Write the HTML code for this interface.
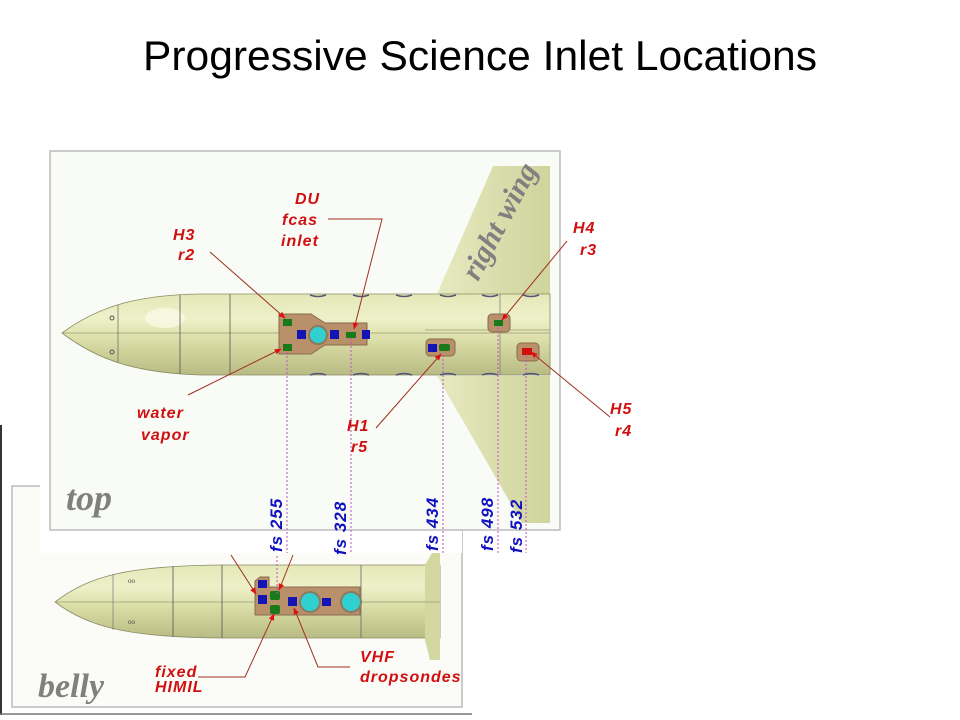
<!DOCTYPE html>
<html><head><meta charset="utf-8"><style>
html,body{margin:0;padding:0;background:#fff;width:960px;height:720px;overflow:hidden}
svg{display:block}
.r{font-family:"Liberation Sans",sans-serif;font-style:italic;font-weight:bold;fill:#d01010;font-size:16px;letter-spacing:1px}
.b{font-family:"Liberation Sans",sans-serif;font-style:italic;font-weight:bold;fill:#1010c0;font-size:17px;letter-spacing:1px}
.g{font-family:"Liberation Serif",serif;font-style:italic;font-weight:bold;fill:#808080}
</style></head><body>
<svg width="960" height="720" viewBox="0 0 960 720" xmlns="http://www.w3.org/2000/svg">
<defs>
<linearGradient id="fus" x1="0" y1="0" x2="0" y2="1">
<stop offset="0" stop-color="#e4e8b8"/><stop offset="0.3" stop-color="#eef0c8"/><stop offset="0.6" stop-color="#d8dca4"/><stop offset="1" stop-color="#b8bc84"/>
</linearGradient>
<linearGradient id="wing" x1="0" y1="0" x2="1" y2="0">
<stop offset="0" stop-color="#e6eac0"/><stop offset="1" stop-color="#cfd39c"/>
</linearGradient>
<marker id="ah" viewBox="0 0 10 10" refX="9" refY="5" markerWidth="7" markerHeight="7" orient="auto"><path d="M0,1 L10,5 L0,9 z" fill="#e01010"/></marker>
</defs>
<text x="143" y="70" font-family="Liberation Sans,sans-serif" font-size="42" textLength="674" lengthAdjust="spacingAndGlyphs" fill="#000">Progressive Science Inlet Locations</text>

<line x1="1" y1="425" x2="1" y2="715" stroke="#333" stroke-width="2"/>
<line x1="0" y1="714" x2="472" y2="714" stroke="#777" stroke-width="1.5"/>

<rect x="12" y="486" width="450" height="221" fill="#fbfcf8" stroke="#bbb" stroke-width="1.5"/>
<path d="M55,602 C90,575 130,566 220,565 L440,565 L440,638 L220,638 C130,637 90,628 55,602 Z" fill="url(#fus)" stroke="#8a8c60" stroke-width="0.8"/>
<path d="M425,565 L432,553 L440,553 L440,660 L430,660 L425,640 Z" fill="#d3d7a0"/>
<line x1="55" y1="602" x2="440" y2="602" stroke="#9a9c70" stroke-width="0.7"/>
<line x1="113" y1="574" x2="113" y2="630" stroke="#777" stroke-width="0.7"/>
<line x1="173" y1="566" x2="173" y2="637" stroke="#555" stroke-width="0.8"/>
<line x1="222" y1="565" x2="222" y2="638" stroke="#555" stroke-width="0.8"/>
<line x1="361" y1="565" x2="361" y2="638" stroke="#666" stroke-width="0.8"/>
<text x="128" y="583" font-size="7" fill="#444">oo</text>
<text x="128" y="624" font-size="7" fill="#444">oo</text>
<path d="M260,577 h9 v10 h91 v28 h-105 v-34 z" fill="#b8906a" stroke="#8a6a50"/>
<rect x="258" y="580" width="9" height="8" fill="#1414b4"/>
<rect x="258" y="595" width="9" height="9" fill="#1414b4"/>
<rect x="270" y="591" width="10" height="9" rx="2" fill="#1a7a1a"/>
<rect x="270" y="605" width="10" height="9" rx="2" fill="#1a7a1a"/>
<rect x="288" y="597" width="9" height="9" fill="#1414b4"/>
<circle cx="310" cy="602" r="10" fill="#30d0d0" stroke="#8a7a60" stroke-width="2"/>
<rect x="322" y="598" width="9" height="8" fill="#1414b4"/>
<circle cx="351" cy="602" r="10" fill="#30d0d0" stroke="#8a7a60" stroke-width="2"/>
<text class="g" x="38" y="697" font-size="34">belly</text>
<line x1="277" y1="556" x2="277" y2="596" stroke="#c050c0" stroke-dasharray="2,2"/>
<line x1="231" y1="555" x2="256" y2="594" stroke="#a03020" marker-end="url(#ah)"/>
<line x1="293" y1="555" x2="279" y2="590" stroke="#a03020" marker-end="url(#ah)"/>
<polyline points="198,677 245,677 274,614" fill="none" stroke="#a03020" marker-end="url(#ah)"/>
<polyline points="350,667 318,667 294,608" fill="none" stroke="#a03020" marker-end="url(#ah)"/>
<text class="r" x="155" y="677" font-size="13">fixed</text>
<text class="r" x="155" y="692" font-size="13">HIMIL</text>
<text class="r" x="360" y="662">VHF</text>
<text class="r" x="360" y="682">dropsondes</text>

<rect x="40" y="480" width="422" height="73" fill="#fff"/>

<rect x="50" y="151" width="510" height="379" fill="#f9fbf6" stroke="#bbb" stroke-width="1.5"/>
<path d="M437,294 L493,166 L550,166 L550,294 Z" fill="url(#wing)"/>
<path d="M437,376 L522,523 L550,523 L550,376 Z" fill="url(#wing)"/>
<path d="M62,333 C100,305 140,295 200,294 L550,294 L550,375 L200,375 C140,373 100,362 62,333 Z" fill="url(#fus)" stroke="#8a8c60" stroke-width="0.8"/>
<ellipse cx="165" cy="318" rx="20" ry="10" fill="#fafcea" opacity="0.7"/>
<line x1="62" y1="333" x2="550" y2="333" stroke="#9a9c70" stroke-width="0.7"/>
<line x1="425" y1="330" x2="550" y2="330" stroke="#9a9c70" stroke-width="0.7"/>
<line x1="118" y1="305" x2="118" y2="362" stroke="#666" stroke-width="0.7"/>
<line x1="180" y1="295" x2="180" y2="374" stroke="#555" stroke-width="0.8"/>
<line x1="230" y1="294" x2="230" y2="375" stroke="#555" stroke-width="0.8"/>
<line x1="500" y1="294" x2="500" y2="375" stroke="#777" stroke-width="0.7"/>
<circle cx="112" cy="318" r="2" fill="none" stroke="#555"/>
<circle cx="112" cy="352" r="2" fill="none" stroke="#555"/>
<g stroke="#557" stroke-width="1.5" fill="none">
<path d="M310,295 q8,3 16,0 M353,295 q8,3 16,0 M396,295 q8,3 16,0 M440,295 q8,3 16,0 M482,295 q8,3 16,0 M523,295 q8,3 16,0"/>
<path d="M310,375 q8,-3 16,0 M353,375 q8,-3 16,0 M396,375 q8,-3 16,0 M440,375 q8,-3 16,0 M482,375 q8,-3 16,0 M523,375 q8,-3 16,0"/>
</g>
<path d="M279,314 h32 l14,9 h42 v22 h-42 l-14,9 h-32 z" fill="#b8906a" stroke="#8a6a50"/>
<rect x="283" y="319" width="9" height="7" fill="#1a7a1a"/>
<rect x="283" y="344" width="9" height="7" fill="#1a7a1a"/>
<rect x="297" y="330" width="9" height="9" fill="#1414b4"/>
<circle cx="318" cy="335" r="9" fill="#30d0d0" stroke="#8a7a60" stroke-width="2"/>
<rect x="330" y="330" width="9" height="9" fill="#1414b4"/>
<rect x="346" y="332" width="10" height="6" fill="#1a7a1a"/>
<rect x="362" y="330" width="8" height="9" fill="#1414b4"/>
<rect x="426" y="339" width="29" height="17" rx="4" fill="#b8906a" stroke="#8a6a50"/>
<rect x="428" y="344" width="9" height="8" fill="#1414b4"/>
<rect x="439" y="344" width="11" height="7" rx="2" fill="#1a7a1a"/>
<rect x="488" y="314" width="22" height="18" rx="4" fill="#b8906a" stroke="#8a6a50"/>
<rect x="494" y="320" width="9" height="6" fill="#1a7a1a"/>
<rect x="517" y="343" width="22" height="18" rx="4" fill="#b8906a" stroke="#8a6a50"/>
<rect x="522" y="348" width="10" height="7" fill="#d01010"/>
<text class="g" transform="translate(478,282) rotate(-62)" font-size="30" fill="#8a8a80">right wing</text>
<text class="g" x="66" y="510" font-size="36">top</text>

<g stroke="#c050c0" stroke-dasharray="2,2" stroke-width="1">
<line x1="287" y1="352" x2="287" y2="553"/>
<line x1="351" y1="338" x2="351" y2="553"/>
<line x1="443" y1="355" x2="443" y2="553"/>
<line x1="498" y1="327" x2="498" y2="553"/>
<line x1="526" y1="356" x2="526" y2="553"/>
</g>
<g>
<text class="b" transform="translate(282,552) rotate(-90)">fs 255</text>
<text class="b" transform="translate(346,555) rotate(-90)">fs 328</text>
<text class="b" transform="translate(438,551) rotate(-90)">fs 434</text>
<text class="b" transform="translate(493,551) rotate(-90)">fs 498</text>
<text class="b" transform="translate(522,553) rotate(-90)">fs 532</text>
</g>

<g stroke="#a03020" stroke-width="1" fill="none">
<line x1="210" y1="252" x2="285" y2="318" marker-end="url(#ah)"/>
<polyline points="328,219 382,219 354,329" marker-end="url(#ah)"/>
<line x1="188" y1="395" x2="281" y2="349" marker-end="url(#ah)"/>
<line x1="376" y1="428" x2="441" y2="354" marker-end="url(#ah)"/>
<line x1="567" y1="241" x2="502" y2="320" marker-end="url(#ah)"/>
<line x1="610" y1="417" x2="531" y2="352" marker-end="url(#ah)"/>
</g>
<text class="r" x="173" y="240">H3</text>
<text class="r" x="178" y="260">r2</text>
<text class="r" x="295" y="204">DU</text>
<text class="r" x="282" y="225">fcas</text>
<text class="r" x="281" y="246">inlet</text>
<text class="r" x="137" y="418">water</text>
<text class="r" x="141" y="440">vapor</text>
<text class="r" x="347" y="431">H1</text>
<text class="r" x="351" y="452">r5</text>
<text class="r" x="573" y="233">H4</text>
<text class="r" x="580" y="255">r3</text>
<text class="r" x="610" y="414">H5</text>
<text class="r" x="615" y="436">r4</text>
</svg>
</body></html>
